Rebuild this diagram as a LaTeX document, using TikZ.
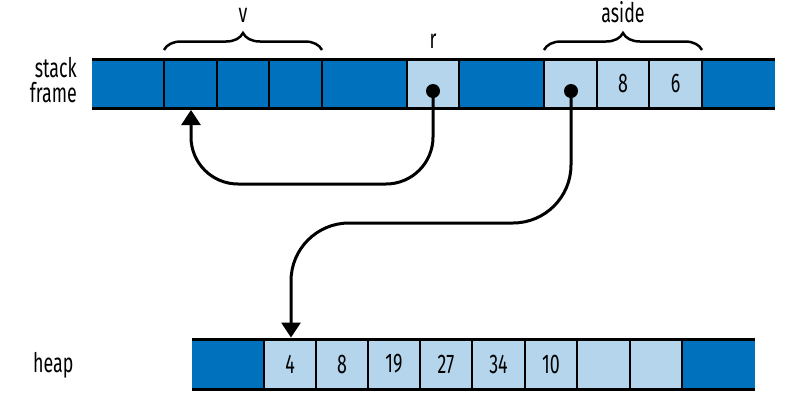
\documentclass[tikz,border=0pt]{standalone}
\usepackage{fontspec}
\setmainfont{Fira Sans}[FakeStretch=0.66]
\usetikzlibrary{arrows.meta,decorations.pathreplacing}
\definecolor{darkcell}{HTML}{0071BC}
\definecolor{lightcell}{HTML}{B4D5EB}
\begin{document}
\begin{tikzpicture}[x=1pt,y=-1pt,
  cellbox/.style={inner sep=0pt, outer sep=0pt, draw=none, font=\fontsize{27}{30}\selectfont},
  scell/.style={cellbox, minimum height=49pt},
  hcell/.style={cellbox, minimum height=50pt},
  dk/.style={fill=darkcell},
  lt/.style={fill=lightcell},
  lbl/.style={font=\fontsize{27}{30}\selectfont, inner sep=0pt},
  rule/.style={line width=3pt},
  sepline/.style={line width=2.6pt},
  link/.style={line width=3pt},
  tip/.style={-{Triangle[length=15pt,width=19pt]}},
  bracestyle/.style={decorate, decoration={brace, amplitude=17pt}, line width=2.5pt},
  dot/.style={circle, fill=black, inner sep=0pt, minimum size=14pt}
]
\useasboundingbox (0,0) rectangle (809,397);

% stack frame cells
\node[scell,dk,minimum width=72pt] (s1) at (128,83.5) {};
\node[scell,dk,minimum width=53pt] (s2) at (190.5,83.5) {};
\node[scell,dk,minimum width=52pt] (s3) at (243,83.5) {};
\node[scell,dk,minimum width=53pt] (s4) at (295.5,83.5) {};
\node[scell,dk,minimum width=85pt] (s5) at (364.5,83.5) {};
\node[scell,lt,minimum width=52pt] (s6) at (433,83.5) {};
\node[scell,dk,minimum width=85pt] (s7) at (501.5,83.5) {};
\node[scell,lt,minimum width=53pt] (s8) at (570.5,83.5) {};
\node[scell,lt,minimum width=52pt] (s9) at (623,83.5) {8};
\node[scell,lt,minimum width=53pt] (s10) at (675.5,83.5) {6};
\node[scell,dk,minimum width=73pt] (s11) at (738.5,83.5) {};

\draw[rule] (s1.north west) -- (s11.north east);
\draw[rule] (s1.south west) -- (s11.south east);
\foreach \c in {s2,s3,s4,s5,s6,s7,s8,s9,s10,s11}
  \draw[sepline] (\c.north west) -- (\c.south west);

% heap cells
\node[hcell,dk,minimum width=72pt] (h1) at (228,364) {};
\node[hcell,lt,minimum width=52pt] (h2) at (290,364) {4};
\node[hcell,lt,minimum width=52pt] (h3) at (342,364) {8};
\node[hcell,lt,minimum width=52pt] (h4) at (394,364) {19};
\node[hcell,lt,minimum width=52pt] (h5) at (446,364) {27};
\node[hcell,lt,minimum width=53pt] (h6) at (498.5,364) {34};
\node[hcell,lt,minimum width=52pt] (h7) at (551,364) {10};
\node[hcell,lt,minimum width=53pt] (h8) at (603.5,364) {};
\node[hcell,lt,minimum width=52pt] (h9) at (656,364) {};
\node[hcell,dk,minimum width=73pt] (h10) at (718.5,364) {};

\draw[rule] (h1.north west) -- (h10.north east);
\draw[rule] (h1.south west) -- (h10.south east);
\foreach \c in {h2,h3,h4,h5,h6,h7,h8,h9,h10}
  \draw[sepline] (\c.north west) -- (\c.south west);

% labels
\node[lbl, anchor=base east] (lstack) at (77,77) {stack};
\node[lbl, anchor=base east] (lframe) at (77,102) {frame};
\node[lbl, anchor=base west] (lheap) at (33,372) {heap};
\node[lbl, anchor=base] (lv) at (243,22) {v};
\node[lbl, anchor=base] (lr) at (433,48) {r};
\node[lbl, anchor=base] (laside) at (623,22) {aside};

% braces
\draw[bracestyle] (s2.north west |- 0,50) -- (s4.north east |- 0,50);
\draw[bracestyle] (s8.north west |- 0,50) -- (s10.north east |- 0,50);

% pointers
\node[dot] (p1) at (433,91) {};
\node[dot] (p2) at (571,91) {};
\coordinate (t1) at (191,110);
\coordinate (t2) at (291,337.5);
\draw[link, tip, rounded corners=47pt] (p1.center) -- (433,184) -- (191,184) -- (t1);
\draw[link, tip, rounded corners=58pt] (p2.center) -- (571,223) -- (291,223) -- (t2);
\end{tikzpicture}
\end{document}
